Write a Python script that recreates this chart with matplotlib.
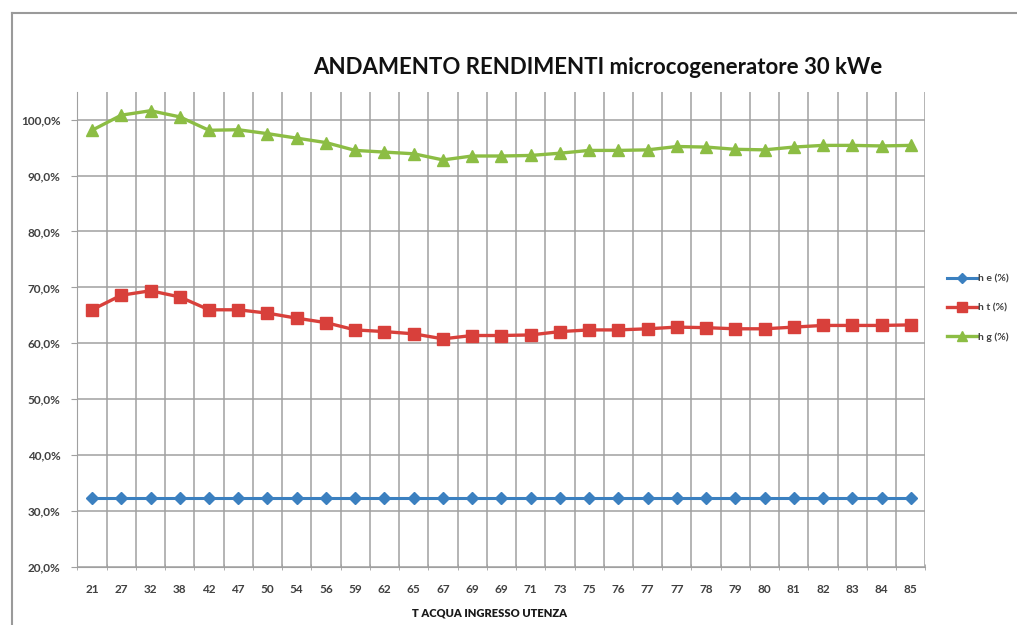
import numpy as np
import matplotlib.pyplot as plt
from matplotlib.lines import Line2D

# Water inlet temperature (categories on the x axis)
temperature = ["21", "27", "32", "38", "42", "47", "50", "54", "56", "59",
               "62", "65", "67", "69", "69", "71", "73", "75", "76", "77",
               "77", "78", "79", "80", "81", "82", "83", "84", "85"]

# Efficiencies in percent
eta_e = [32.4] * 29
eta_t = [66.0, 68.6, 69.4, 68.3, 66.0, 66.0, 65.4, 64.5, 63.7, 62.4,
         62.1, 61.7, 60.8, 61.4, 61.4, 61.5, 62.1, 62.4, 62.4, 62.6,
         62.9, 62.8, 62.6, 62.6, 62.9, 63.2, 63.2, 63.2, 63.3]
eta_g = [98.1, 100.8, 101.6, 100.5, 98.1, 98.2, 97.5, 96.7, 95.9, 94.5,
         94.2, 93.9, 92.8, 93.5, 93.5, 93.6, 94.0, 94.5, 94.5, 94.6,
         95.2, 95.1, 94.7, 94.6, 95.1, 95.4, 95.4, 95.3, 95.4]

series_names = ["h e (%)", "h t (%)", "h g (%)"]

W, H = 1017, 625
fig = plt.figure(figsize=(W / 100, H / 100), dpi=100)
fig.patch.set_facecolor("white")

# frame around the chart
fig.add_artist(Line2D([12 / W, 1.0], [1 - 13 / H, 1 - 13 / H], color="#9a9a9a", lw=1.5))
fig.add_artist(Line2D([12 / W, 12 / W], [0, 1 - 13 / H], color="#9a9a9a", lw=1.5))

ax = fig.add_axes([77.4 / W, 58 / H, 848 / W, (567 - 91.7) / H])

x = np.arange(len(temperature))
grid_col = "#a0a0a0"

# gridlines: horizontal at the value ticks, vertical at category boundaries
for v in range(20, 101, 10):
    ax.axhline(v, color=grid_col, lw=1.1, zorder=0)
for b in np.arange(-0.5, len(temperature), 1.0):
    ax.axvline(b, color=grid_col, lw=1.1, zorder=0)

ax.plot(x, eta_e, color="#3b80c0", lw=2.2, marker="D", ms=6,
        mfc="#3b80c0", mec="#3b80c0", label=series_names[0], zorder=3)
ax.plot(x, eta_t, color="#d8403b", lw=2.4, marker="s", ms=8,
        mfc="#d8403b", mec="#d8403b", label=series_names[1], zorder=3)
ax.plot(x, eta_g, color="#8cbd44", lw=2.4, marker="^", ms=8.5,
        mfc="#8cbd44", mec="#8cbd44", label=series_names[2], zorder=3)

ax.set_xlim(-0.5, len(temperature) - 0.5)
ax.set_ylim(20, 105)

lab_font = dict(family="Lato", fontweight="bold", fontsize=8.5, color="#404040")
ax.set_yticks(range(20, 101, 10))
ax.set_yticklabels([f"{v},0%" for v in range(20, 101, 10)], **lab_font)
ax.set_xticks(x)
ax.set_xticklabels(temperature, **lab_font)
ax.set_xticks(np.arange(-0.5, len(temperature), 1.0), minor=True)

ax.tick_params(axis="x", which="major", length=0, pad=12)
ax.tick_params(axis="x", which="minor", length=4, direction="inout",
               color=grid_col)
ax.tick_params(axis="y", length=4, color=grid_col, pad=8)

for side in ("top", "right"):
    ax.spines[side].set_visible(False)
for side in ("left", "bottom"):
    ax.spines[side].set_color(grid_col)

ax.set_xlabel("T ACQUA INGRESSO UTENZA", fontsize=8, fontweight="heavy",
              family="Lato", color="#1a1a1a")
ax.xaxis.set_label_coords(0.486, -0.085)

fig.text(598 / W, 1 - 68 / H, "ANDAMENTO RENDIMENTI microcogeneratore 30 kWe",
         ha="center", va="center", fontsize=16, fontweight="bold",
         family="Lato", color="#111111")

leg = fig.legend(loc="center left", bbox_to_anchor=(938 / W, 1 - 308 / H),
                 frameon=False, fontsize=7.5, handlelength=2.8,
                 handletextpad=0.1, labelspacing=1.9, markerscale=0.9,
                 prop=dict(family="Lato", weight="bold", size=7.5))
for t in leg.get_texts():
    t.set_color("#404040")

fig.savefig("out.png", dpi=100)
